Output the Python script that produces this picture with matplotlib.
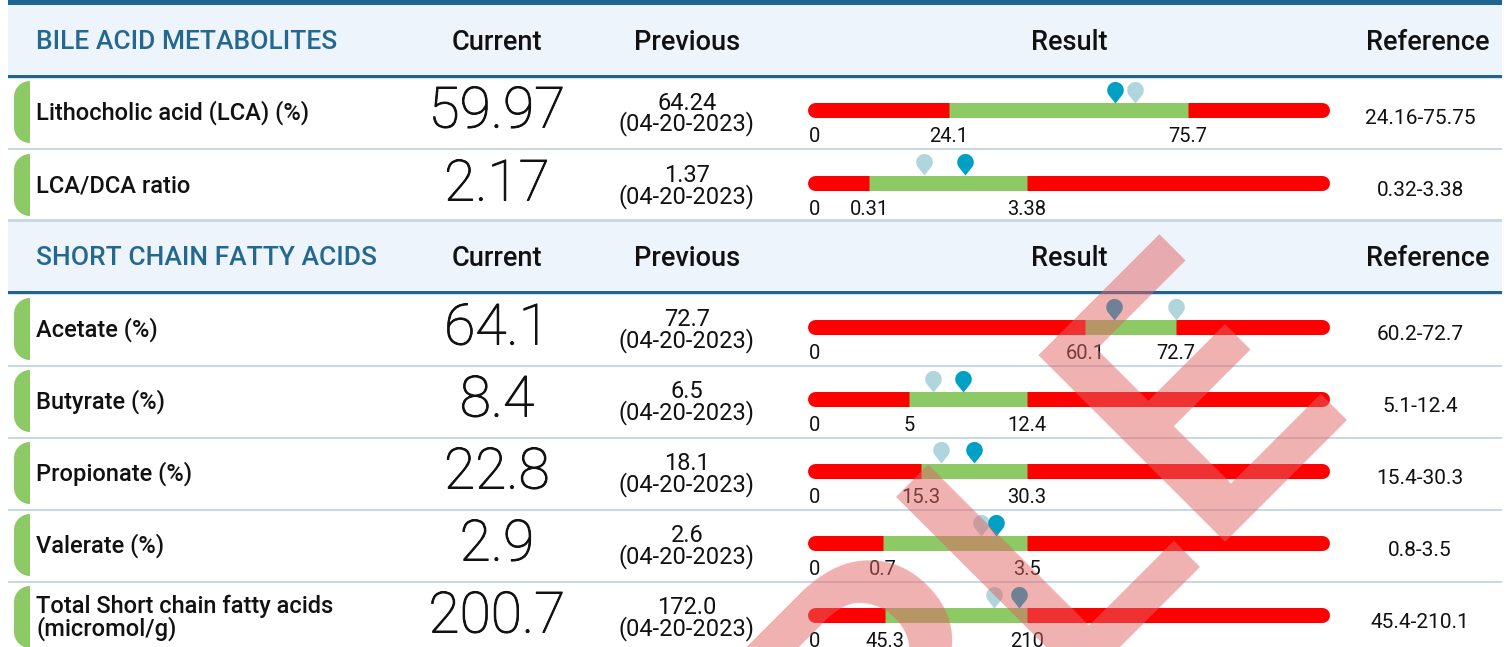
import numpy as np
import matplotlib
matplotlib.use("Agg")
import matplotlib.pyplot as plt
import matplotlib.patheffects as pe
from matplotlib.path import Path
from matplotlib.patches import PathPatch, Rectangle

plt.rcParams['font.family'] = ['Roboto', 'DejaVu Sans']

# ---------------- data ----------------
sections = ["BILE ACID METABOLITES", "SHORT CHAIN FATTY ACIDS"]
columns = ["Current", "Previous", "Result", "Reference"]
markers = ["Lithocholic acid (LCA) (%)", "LCA/DCA ratio", "Acetate (%)",
           "Butyrate (%)", "Propionate (%)", "Valerate (%)",
           "Total Short chain fatty acids\n(micromol/g)"]
current = [59.97, 2.17, 64.1, 8.4, 22.8, 2.9, 200.7]
current_txt = ["59.97", "2.17", "64.1", "8.4", "22.8", "2.9", "200.7"]
previous = [64.24, 1.37, 72.7, 6.5, 18.1, 2.6, 172.0]
previous_txt = ["64.24", "1.37", "72.7", "6.5", "18.1", "2.6", "172.0"]
prev_date = "04-20-2023"
low = [24.1, 0.31, 60.1, 5, 15.3, 0.7, 45.3]
high = [75.7, 3.38, 72.7, 12.4, 30.3, 3.5, 210]
low_txt = ["24.1", "0.31", "60.1", "5", "15.3", "0.7", "45.3"]
high_txt = ["75.7", "3.38", "72.7", "12.4", "30.3", "3.5", "210"]
reference = ["24.16-75.75", "0.32-3.38", "60.2-72.7", "5.1-12.4",
             "15.4-30.3", "0.8-3.5", "45.4-210.1"]

# ---------------- layout (pixels) ----------------
W, H = 1509, 647
row_top = [77, 150, 294, 366, 438, 510, 582]
head_top = [5, 221]
band_frac = [(0.264, 0.736), (0.107, 0.418), (0.533, 0.712), (0.185, 0.418),
             (0.209, 0.418), (0.134, 0.418), (0.138, 0.418)]
col_x = [497, 687, 1069, 1428]
bar_x0, bar_x1 = 815, 1322

RED = '#FF0000'
GREEN = '#8DC965'
CUR_C = '#009FC5'
PREV_C = '#B0D5DC'
BLUE = '#1F6590'
HEAD_BG = '#EDF4FC'
SEP = '#C8D9E4'
TXT = '#111111'

fig = plt.figure(figsize=(W / 100, H / 100), dpi=100)
ax = fig.add_axes([0, 0, 1, 1])
ax.set_xlim(0, W)
ax.set_ylim(H, 0)
ax.axis('off')

# top band and section headers
ax.add_patch(Rectangle((8, 0), 1494, 5, color=BLUE, lw=0))
for s, ht in enumerate(head_top):
    ax.add_patch(Rectangle((8, ht), 1494, 70, color=HEAD_BG, lw=0))
    ax.add_patch(Rectangle((8, ht + 70), 1494, 2.5, color=BLUE, lw=0))
    ax.add_patch(Rectangle((8, ht + 72.5), 1494, 1.5, color='#D5E3EC', lw=0))
    ax.text(36, ht + 37, sections[s], color='#24688F', fontsize=19,
            fontweight='medium', va='center', ha='left')
    for c, cx in zip(columns, col_x):
        ax.text(cx, ht + 37, c, color=TXT, fontsize=19.5, fontweight='medium',
                va='center', ha='center')

# row separators
for i, rt in enumerate(row_top):
    if i + 1 < len(row_top) and row_top[i + 1] - rt < 100:
        ax.add_patch(Rectangle((8, rt + 70.5), 1494, 2.5, color=SEP, lw=0))
ax.add_patch(Rectangle((8, row_top[1] + 69), 1494, 2.5, color=SEP, lw=0))


def pill(y0, y1, x0=14, x1=30, r=16):
    th = np.linspace(np.pi / 2, np.pi, 20)
    top = [(x0 + r + r * np.cos(t), y0 + r - r * np.sin(t)) for t in th]
    th2 = np.linspace(np.pi, 3 * np.pi / 2, 20)
    bot = [(x0 + r + r * np.cos(t), y1 - r - r * np.sin(t)) for t in th2]
    verts = [(x1, y0)] + top + bot + [(x1, y1), (x1, y0)]
    p = PathPatch(Path(verts), color=GREEN, lw=0)
    ax.add_patch(p)
    p.set_clip_path(Rectangle((x0, y0), x1 - x0, y1 - y0, transform=ax.transData))


# pin marker: tip at origin, bulb above
r_pin, c_pin = 1.0, 1.6
alpha_t = np.arccos(r_pin / c_pin)
ang = np.linspace(-np.pi / 2 + alpha_t, 3 * np.pi / 2 - alpha_t, 40)
pin_verts = [(0, 0)] + [(r_pin * np.cos(a), c_pin + r_pin * np.sin(a)) for a in ang] + [(0, 0)]
pin = Path(pin_verts)

thicker = [pe.withStroke(linewidth=0.7, foreground=TXT)]

for i, rt in enumerate(row_top):
    # green side tab
    y_end = min(rt + 66, H + 20)
    pill(rt + 4, y_end)
    # label
    ax.text(36, rt + 36, markers[i], color=TXT, fontsize=17, fontweight='medium',
            va='center', ha='left', linespacing=0.92)
    # current value
    ax.text(col_x[0], rt + 35, current_txt[i], color=TXT, fontsize=41,
            fontweight='light', va='center', ha='center', path_effects=thicker)
    # previous value
    ax.text(col_x[1], rt + 26, previous_txt[i], color=TXT, fontsize=17,
            va='center', ha='center')
    ax.text(col_x[1], rt + 47, "(" + prev_date + ")", color=TXT, fontsize=17,
            va='center', ha='center')
    # reference
    ax.text(col_x[3] - 8, rt + 41, reference[i], color=TXT, fontsize=15,
            va='center', ha='center')

    # result bar on its own axes with a piecewise scale
    lo, hi = low[i], high[i]
    f1, f2 = band_frac[i]
    top = 2 * hi
    xp = [0, lo, hi, top]
    fp = [0, f1, f2, 1]

    def fwd(x, xp=xp, fp=fp):
        return np.interp(x, xp, fp)

    def inv(y, xp=xp, fp=fp):
        return np.interp(y, fp, xp)

    yc = rt + 33
    bax = fig.add_axes([bar_x0 / W, 1 - (yc + 15) / H, (bar_x1 - bar_x0) / W, 30 / H])
    bax.set_xscale('function', functions=(fwd, inv))
    bax.set_xlim(0, top)
    bax.set_ylim(-15, 15)
    bax.patch.set_alpha(0)
    for sp in bax.spines.values():
        sp.set_visible(False)
    bax.axhline(0, 0, 1, color=RED, lw=10.8, solid_capstyle='round', clip_on=False)
    bax.hlines(0, lo, hi, color=GREEN, lw=10.8, capstyle='butt')
    bax.set_xticks([0, lo, hi], ["0", low_txt[i], high_txt[i]])
    bax.tick_params(axis='x', length=0, pad=1.5, labelsize=14.5, labelcolor=TXT)
    bax.set_yticks([])
    pts = sorted([(previous[i], PREV_C), (current[i], CUR_C)])
    for v, col in pts:
        bax.plot([v], [7.5], marker=pin, markersize=31, color=col, mew=0,
                 clip_on=False, linestyle='none')

# SAMPLE watermark
fig.text(1352 / W, 1 - 402 / H, "SAMPLE", rotation=45, rotation_mode='anchor',
         ha='right', va='baseline', fontsize=267, fontweight='medium',
         color='#E16363', alpha=0.5, zorder=10)

fig.savefig("out.png", dpi=100)
